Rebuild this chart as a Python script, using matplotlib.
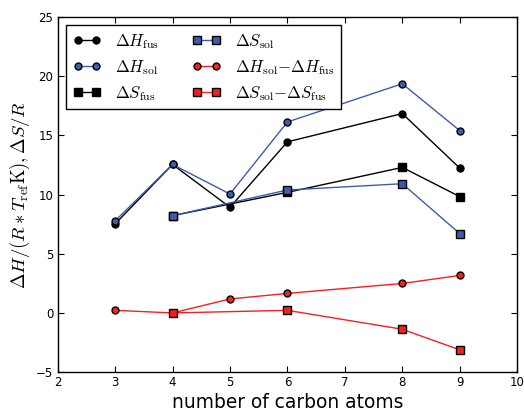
import numpy as np
import matplotlib
matplotlib.use('Agg')
import matplotlib.pyplot as plt

plt.rcParams['mathtext.fontset'] = 'cm'

# values
n_H = [3, 4, 5, 6, 8, 9]
n_S = [4, 6, 8, 9]

H_fus = [7.52, 12.55, 8.93, 14.46, 16.85, 12.24]
H_sol = [7.78, 12.55, 10.05, 16.14, 19.37, 15.41]
S_fus = [8.22, 10.19, 12.30, 9.83]
S_sol = [8.22, 10.39, 10.92, 6.71]
dH = [0.22, 0.0, 1.18, 1.65, 2.49, 3.17]
dS = [0.0, 0.22, -1.38, -3.12]

blue = '#3f5bab'
red = '#ee2222'

fig = plt.figure(figsize=(5.24, 4.08), dpi=100)
ax = fig.add_axes([0.110, 0.088, 0.877, 0.870])

ms = 5
ms_sq = 5.5
ax.plot(n_H, H_fus, 'o-', color='k', mfc='k', mec='k', ms=ms, lw=1,
        label=r'$\Delta H_{\rm fus}$')
ax.plot(n_H, H_sol, 'o-', color=blue, mfc=blue, mec='k', ms=ms, lw=1,
        label=r'$\Delta H_{\rm sol}$')
ax.plot(n_S, S_fus, 's-', color='k', mfc='k', mec='k', ms=ms_sq, lw=1,
        label=r'$\Delta S_{\rm fus}$')
ax.plot(n_S, S_sol, 's-', color=blue, mfc=blue, mec='k', ms=ms_sq, lw=1,
        label=r'$\Delta S_{\rm sol}$')
ax.plot(n_H, dH, 'o-', color=red, mfc=red, mec='k', ms=ms, lw=1,
        label=r'$\Delta H_{\rm sol}{-}\Delta H_{\rm fus}$')
ax.plot(n_S, dS, 's-', color=red, mfc=red, mec='k', ms=ms_sq, lw=1,
        label=r'$\Delta S_{\rm sol}{-}\Delta S_{\rm fus}$')

ax.set_xlim(2, 10)
ax.set_ylim(-5, 25)
ax.set_xticks(np.arange(2, 11, 1))
ax.set_yticks(np.arange(-5, 26, 5))
ax.tick_params(direction='in', top=True, right=True, labelsize=8.5, length=4, pad=3)
for s in ax.spines.values():
    s.set_linewidth(1.0)

ax.set_xlabel('number of carbon atoms', fontsize=13.4, labelpad=3)
ax.set_ylabel(r'$\Delta H/(R*T_{\rm ref}{\rm K}),\Delta S/R$', fontsize=13.5, labelpad=3)

leg = ax.legend(loc='upper left', ncol=2, numpoints=2, fontsize=12, fancybox=False,
                framealpha=1, edgecolor='k', borderaxespad=0.5, handlelength=1.7,
                handletextpad=0.85, columnspacing=2.0, labelspacing=0.42,
                borderpad=0.4)
leg.get_frame().set_linewidth(1.0)

fig.savefig('out.png', dpi=100)
